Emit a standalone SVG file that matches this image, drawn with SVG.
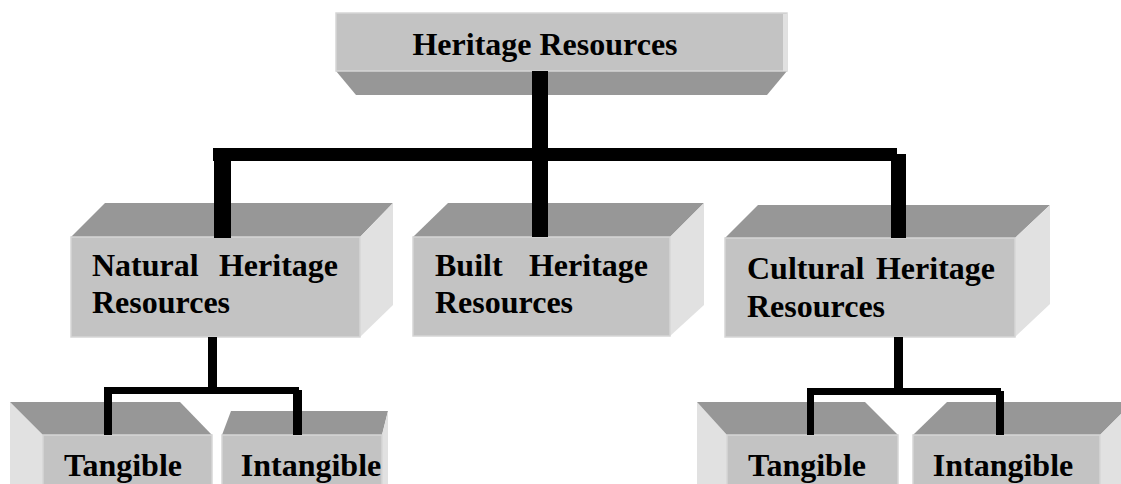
<svg xmlns="http://www.w3.org/2000/svg" width="1121" height="484" viewBox="0 0 1121 484">
<style>
.front{fill:#c3c3c3;stroke:#d6d6d6;stroke-width:1.5}
.dark{fill:#979797}
.light{fill:#e1e1e1}
.lbl{font-family:"Liberation Serif","Times New Roman",serif;font-weight:bold;font-size:32px;fill:#000}
.con{fill:#000}
</style>
<rect width="1121" height="484" fill="#fff"/>
<g id="node-heritage">
<polygon class="dark" points="336,71 787,71 767,95 356,95"/>
<rect class="front" x="336" y="13" width="451" height="58"/>
<rect class="light" x="783" y="14" width="4" height="57"/>
<text class="lbl" x="545" y="55" text-anchor="middle">Heritage Resources</text>
</g>
<g id="node-natural">
<polygon class="dark" points="71,237 105,203 393,203 360,237"/>
<polygon class="light" points="360,237 393,203 393,305 360,337"/>
<rect class="front" x="71" y="237" width="289" height="100"/>
<text class="lbl" x="92" y="276">Natural</text>
<text class="lbl" x="338" y="276" text-anchor="end">Heritage</text>
<text class="lbl" x="92" y="313">Resources</text>
</g>
<g id="node-built">
<polygon class="dark" points="413,237 448,203 704,203 670,237"/>
<polygon class="light" points="670,237 704,203 704,305 670,336"/>
<rect class="front" x="413" y="237" width="257" height="99"/>
<text class="lbl" x="435" y="276">Built</text>
<text class="lbl" x="648" y="276" text-anchor="end">Heritage</text>
<text class="lbl" x="435" y="313">Resources</text>
</g>
<g id="node-cultural">
<polygon class="dark" points="725,238 758,205 1050,205 1015,238"/>
<polygon class="light" points="1015,238 1050,205 1050,304 1015,337"/>
<rect class="front" x="725" y="238" width="290" height="99"/>
<text class="lbl" x="747" y="279">Cultural</text>
<text class="lbl" x="995" y="279" text-anchor="end">Heritage</text>
<text class="lbl" x="747" y="317">Resources</text>
</g>
<g id="node-tangible-1">
<polygon class="light" points="10,402 43,435 43,484 10,484"/>
<polygon class="dark" points="10,402 180,402 212,435 43,435"/>
<rect class="front" x="43" y="435" width="169" height="52"/>
<text class="lbl" x="123" y="476" text-anchor="middle">Tangible</text>
</g>
<g id="node-intangible-1">
<polygon class="dark" points="222,435 231,411 388,411 382,435"/>
<polygon class="light" points="382,435 388,411 388,484 382,484"/>
<rect class="front" x="222" y="435" width="160" height="52"/>
<text class="lbl" x="311" y="476" text-anchor="middle">Intangible</text>
</g>
<g id="node-tangible-2">
<polygon class="light" points="697,402 727,435 727,484 697,484"/>
<polygon class="dark" points="697,402 865,402 898,435 727,435"/>
<rect class="front" x="727" y="435" width="171" height="52"/>
<text class="lbl" x="807" y="476" text-anchor="middle">Tangible</text>
</g>
<g id="node-intangible-2">
<polygon class="dark" points="913,435 947,402 1133,402 1100,435"/>
<polygon class="light" points="1100,435 1133,402 1133,484 1100,484"/>
<rect class="front" x="913" y="435" width="187" height="52"/>
<text class="lbl" x="1003" y="476" text-anchor="middle">Intangible</text>
</g>
<g id="connectors">
<rect class="con" x="532" y="71" width="16" height="166"/>
<rect class="con" x="213" y="148" width="684" height="13"/>
<rect class="con" x="214" y="148" width="17" height="90"/>
<rect class="con" x="891" y="154" width="15" height="84"/>
<rect class="con" x="208" y="337" width="9" height="55"/>
<rect class="con" x="104" y="387" width="195" height="7"/>
<rect class="con" x="104" y="387" width="8" height="48"/>
<rect class="con" x="293" y="390" width="9" height="45"/>
<rect class="con" x="894" y="337" width="9" height="56"/>
<rect class="con" x="807" y="388" width="194" height="7"/>
<rect class="con" x="807" y="388" width="7" height="47"/>
<rect class="con" x="996" y="391" width="8" height="44"/>
</g>
</svg>
